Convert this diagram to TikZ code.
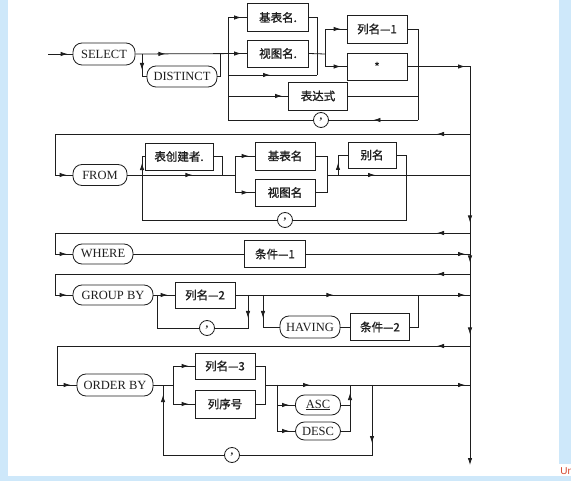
\documentclass[tikz,border=0pt]{standalone}
\usepackage{fontspec}
\setmainfont{Liberation Serif}
\setsansfont{Liberation Sans}
\newfontfamily\cjk[AutoFakeBold=1.2]{Noto Sans CJK SC}
\usetikzlibrary{arrows.meta,decorations.markings}
\definecolor{edge}{RGB}{30,30,30}
\definecolor{frame}{RGB}{206,232,250}
\definecolor{stamp}{RGB}{215,70,45}
\tikzset{
  kw/.style={draw=edge, rounded corners=9pt, inner sep=0pt, font=\fontsize{12.5}{14}\selectfont},
  nm/.style={draw=edge, inner sep=0pt, font=\cjk\bfseries\fontsize{11.5}{13}\selectfont},
  dot/.style={draw=edge, circle, minimum size=15pt, inner sep=0pt, font=\bfseries\fontsize{11}{12}\selectfont},
  arrowat/.style={postaction={decorate,decoration={markings,
      mark=at position #1 with {\arrow{Latex[length=7pt,width=4.5pt]}}}}},
}

\begin{document}
\begin{tikzpicture}[x=1pt, y=-1pt, line width=0.8pt, color=edge]
  \useasboundingbox (0,0) rectangle (571,481);
  \fill[frame] (0,0) rectangle (571,481);
  \fill[white] (8,0) rectangle (559,476);
  \fill[white] (559,464) rectangle (571,476);
  \node[text=stamp, font=\sffamily\fontsize{10}{11}\selectfont, anchor=west, inner sep=0pt] (un) at (560,471) {Un};

  % SELECT
  \node[kw, minimum width=62pt, minimum height=22pt] (select) at (104,54) {SELECT};
  \node[kw, minimum width=70pt, minimum height=21pt] (distinct) at (182,76.5) {DISTINCT};
  \node[nm, minimum width=61pt, minimum height=28pt] (base1) at (278,17.5) {基表名.};
  \node[nm, minimum width=61pt, minimum height=27pt] (view1) at (278,53.5) {视图名.};
  \node[nm, minimum width=60pt, minimum height=28pt] (col1) at (377,29) {列名—1};
  \node[nm, minimum width=60pt, minimum height=27pt] (star) at (377,66.5) {*};
  \node[nm, minimum width=59pt, minimum height=28pt] (expr) at (318,96) {表达式};
  \node[dot] (comma1) at (321,120) {,};
  \coordinate (in) at (48,54);
  \coordinate (d1) at (142,54);
  \coordinate (d2) at (220,54);
  \coordinate (s1) at (228,54);
  \coordinate (m1) at (317,54);
  \coordinate (c1) at (325,54);
  \coordinate (e1) at (228,75);
  \coordinate (e2) at (317,75);
  \coordinate (r1) at (418,66.5);
  \coordinate (bus0) at (470,66.5);
  \coordinate (busend) at (470,465);

  \draw[arrowat=-5pt] (in) -- (select.west);
  \draw[arrowat=30pt, arrowat=-6pt] (select.east) -- (view1.west);
  \draw[arrowat=16pt] (d1) |- (distinct.west);
  \draw (distinct.east) -| (d2);
  \draw[arrowat=-6pt] (s1 |- comma1) -- (s1 |- base1) -- (base1.west);
  \draw[arrowat=42pt] (e1) -- (e2);
  \draw[arrowat=-6pt] (s1 |- expr) -- (expr.west);
  \draw (base1.east) -| (e2);
  \draw (view1.east) -- (c1);
  \draw[arrowat=-6pt] (c1) |- (col1.west);
  \draw[arrowat=-6pt] (c1) |- (star.west);
  \draw (col1.east) -| (r1 |- comma1);
  \draw (expr.east) -- (r1 |- expr);
  \draw[arrowat=0.5] (r1 |- comma1) -- (comma1.east);
  \draw (comma1.west) -- (s1 |- comma1);
  \draw[arrowat=-5pt] (star.east) -- (bus0);

  % bus
  \draw[arrowat=156pt, arrowat=196pt, arrowat=268pt, -{Latex[length=7pt,width=4.5pt]}] (bus0) -- (busend);

  % FROM
  \node[kw, minimum width=54pt, minimum height=21pt] (from) at (100,175) {FROM};
  \node[nm, minimum width=68pt, minimum height=27pt] (creator) at (179,156.5) {表创建者.};
  \node[nm, minimum width=60pt, minimum height=28pt] (base2) at (285,156) {基表名};
  \node[nm, minimum width=60pt, minimum height=27pt] (view2) at (285,192.5) {视图名};
  \node[nm, minimum width=48pt, minimum height=26pt] (alias) at (372,155) {别名};
  \node[dot] (comma2) at (285,220) {,};
  \coordinate (t1) at (470,134);
  \coordinate (t1l) at (55,134);
  \coordinate (f1) at (142,175);
  \coordinate (f2) at (222,175);
  \coordinate (f3) at (235,175);
  \coordinate (f4) at (327,175);
  \coordinate (f5) at (338,175);
  \coordinate (f6) at (406,175);
  \coordinate (f7) at (470,175);

  \draw[arrowat=33pt, arrowat=-6pt] (t1) -- (t1l) |- (from.west);
  \draw[arrowat=65pt] (from.east) -- (f3);
  \draw (creator.east) -| (f2);
  \draw[arrowat=-6pt] (f3) |- (base2.west);
  \draw[arrowat=-6pt] (f3) |- (view2.west);
  \draw (base2.east) -| (f4);
  \draw (view2.east) -| (f4);
  \draw[arrowat=48pt] (f4) -- (f7);
  \draw[arrowat=12pt] (f5) |- (alias.west);
  \draw (alias.east) -| (f6 |- comma2) -- (comma2.east);
  \draw[arrowat=192pt] (comma2.west) -- (f1 |- comma2) -- (f1 |- creator) -- (creator.west);

  % WHERE
  \node[kw, minimum width=60pt, minimum height=20pt] (where) at (103,254) {WHERE};
  \node[nm, minimum width=61pt, minimum height=27pt] (cond1) at (275,254) {条件—1};
  \coordinate (t2) at (470,233);
  \coordinate (t2l) at (55,233);
  \coordinate (w1) at (470,254);
  \draw[arrowat=33pt, arrowat=-6pt] (t2) -- (t2l) |- (where.west);
  \draw (where) -- (cond1);
  \draw[arrowat=-5pt] (cond1.east) -- (w1);

  % GROUP BY
  \node[kw, minimum width=80pt, minimum height=20pt] (group) at (113,295) {GROUP BY};
  \node[nm, minimum width=60pt, minimum height=26pt] (col2) at (205,295) {列名—2};
  \node[dot] (comma3) at (207,328) {,};
  \node[kw, minimum width=60pt, minimum height=22pt] (having) at (310,327) {HAVING};
  \node[nm, minimum width=59pt, minimum height=27pt] (cond2) at (380,327) {条件—2};
  \coordinate (t3) at (470,274);
  \coordinate (t3l) at (55,274);
  \coordinate (g1) at (157,295);
  \coordinate (g2) at (248,295);
  \coordinate (g3) at (263,295);
  \coordinate (g4) at (418,295);
  \coordinate (g5) at (470,295);
  \draw[arrowat=33pt, arrowat=-6pt] (t3) -- (t3l) |- (group.west);
  \draw[arrowat=-7pt] (group.east) -- (col2.west);
  \draw[arrowat=98pt, arrowat=-5pt] (col2.east) -- (g5);
  \draw[arrowat=23pt] (g2) -- (g2 |- comma3) -- (comma3.east);
  \draw (comma3.west) -| (g1);
  \draw[arrowat=23pt] (g3) |- (having.west);
  \draw (having) -- (cond2);
  \draw (cond2.east) -| (g4);

  % ORDER BY
  \node[kw, minimum width=76pt, minimum height=22pt] (order) at (115,385) {ORDER BY};
  \node[nm, minimum width=60pt, minimum height=26pt] (col3) at (225,366) {列名—3};
  \node[nm, minimum width=60pt, minimum height=28pt] (seq) at (225,404) {列序号};
  \node[kw, minimum width=45pt, minimum height=20pt] (asc) at (318,405) {\underline{ASC}};
  \node[kw, minimum width=45pt, minimum height=18pt] (desc) at (318,431) {DESC};
  \node[dot] (comma4) at (232,455) {,};
  \coordinate (t4) at (470,346);
  \coordinate (t4l) at (57,346);
  \coordinate (o1) at (163,385);
  \coordinate (o2) at (173,385);
  \coordinate (o3) at (265,385);
  \coordinate (o4) at (277,385);
  \coordinate (o5) at (350,385);
  \coordinate (o6) at (372,385);
  \coordinate (o7) at (470,385);
  \draw[arrowat=33pt, arrowat=-6pt] (t4) -- (t4l) |- (order.west);
  \draw (order.east) -- (o2);
  \draw[arrowat=-6pt] (o2) |- (col3.west);
  \draw[arrowat=-6pt] (o2) |- (seq.west);
  \draw (col3.east) -| (o3);
  \draw (seq.east) -| (o3);
  \draw[arrowat=45pt, arrowat=-5pt] (o3) -- (o7);
  \draw[arrowat=-6pt] (o4) |- (asc.west);
  \draw[arrowat=-6pt] (o4) |- (desc.west);
  \draw (asc.east) -| (o5);
  \draw[arrowat=47pt] (desc.east) -| (o5);
  \draw[arrowat=58pt] (o6) -- (o6 |- comma4) -- (comma4.east);
  \draw[arrowat=121pt] (comma4.west) -| (o1);
\end{tikzpicture}
\end{document}
